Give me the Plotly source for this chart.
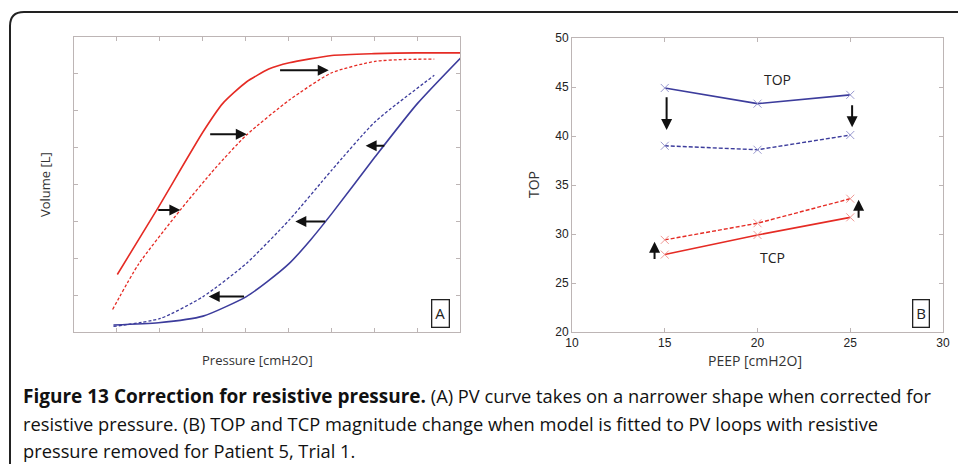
import plotly.graph_objects as go

W, H = 958, 464

# ---------- Panel A data (arbitrary units, no tick labels) ----------
red_solid_x = [1.01, 1.93, 3.01, 3.47, 4.02, 4.54, 5.02, 6.01, 7.0, 8.0, 9.02]
red_solid_y = [1.56, 3.31, 5.43, 6.2, 6.78, 7.13, 7.3, 7.5, 7.55, 7.57, 7.57]
red_dash_x = [0.9, 1.5, 2.48, 3.3, 4.02, 5.02, 6.01, 7.02, 7.7, 8.4]
red_dash_y = [0.61, 1.83, 3.31, 4.45, 5.34, 6.29, 7.03, 7.34, 7.39, 7.4]
blue_solid_x = [0.92, 1.97, 3.01, 4.02, 4.5, 5.02, 5.51, 6.01, 7.02, 8.01, 9.02]
blue_solid_y = [0.19, 0.25, 0.43, 0.96, 1.36, 1.86, 2.49, 3.21, 4.75, 6.2, 7.44]
blue_dash_x = [0.92, 2.02, 3.01, 4.02, 5.02, 6.01, 7.02, 8.4]
blue_dash_y = [0.15, 0.37, 0.96, 1.86, 3.04, 4.39, 5.7, 6.96]
# arrows A: (x_tail, x_head, y)
arrowsA_tail_x = [4.77, 3.14, 1.93, 7.27, 5.89, 4.0]
arrowsA_head_x = [5.94, 4.03, 2.48, 6.8, 5.16, 3.14]
arrowsA_y = [7.1, 5.36, 3.31, 5.05, 3.0, 0.96]

# ---------- Panel B data ----------
peep = [15, 20, 25]
top_solid = [44.9, 43.3, 44.2]
top_dash = [39.0, 38.6, 40.1]
tcp_solid = [27.9, 29.9, 31.7]
tcp_dash = [29.4, 31.1, 33.6]
# arrows B: (x, y_tail, y_head)
arrowsB_x = [15.1, 25.1, 14.45, 25.45]
arrowsB_tail_y = [44.1, 43.3, 27.3, 31.5]
arrowsB_head_y = [40.6, 40.9, 29.2, 33.5]

BLUE = "#3c3c9c"
RED = "#e52b24"
FRAME = "#bdb5b5"

fig = go.Figure()

# Panel A traces
fig.add_trace(go.Scatter(x=red_solid_x, y=red_solid_y, mode="lines", line=dict(color=RED, width=1.6, shape="spline", smoothing=0.6), xaxis="x", yaxis="y"))
fig.add_trace(go.Scatter(x=red_dash_x, y=red_dash_y, mode="lines", line=dict(color=RED, width=1.3, dash="3px,2px", shape="spline", smoothing=0.6), xaxis="x", yaxis="y"))
fig.add_trace(go.Scatter(x=blue_solid_x, y=blue_solid_y, mode="lines", line=dict(color=BLUE, width=1.6, shape="spline", smoothing=0.6), xaxis="x", yaxis="y"))
fig.add_trace(go.Scatter(x=blue_dash_x, y=blue_dash_y, mode="lines", line=dict(color=BLUE, width=1.3, dash="3px,2px", shape="spline", smoothing=0.6), xaxis="x", yaxis="y"))

# Panel B traces
mk_blue = dict(symbol="x-thin", size=8, line=dict(color="#9a9ad0", width=1))
mk_red = dict(symbol="x-thin", size=8, line=dict(color="#f09a96", width=1))
fig.add_trace(go.Scatter(x=peep, y=top_solid, mode="lines+markers", line=dict(color=BLUE, width=1.6), marker=mk_blue, xaxis="x2", yaxis="y2"))
fig.add_trace(go.Scatter(x=peep, y=top_dash, mode="lines+markers", line=dict(color=BLUE, width=1.4, dash="4px,2px"), marker=mk_blue, xaxis="x2", yaxis="y2"))
fig.add_trace(go.Scatter(x=peep, y=tcp_solid, mode="lines+markers", line=dict(color=RED, width=1.6), marker=mk_red, xaxis="x2", yaxis="y2"))
fig.add_trace(go.Scatter(x=peep, y=tcp_dash, mode="lines+markers", line=dict(color=RED, width=1.4, dash="4px,2px"), marker=mk_red, xaxis="x2", yaxis="y2"))

annotations = []
for xt, xh, yy in zip(arrowsA_tail_x, arrowsA_head_x, arrowsA_y):
    annotations.append(dict(x=xh, y=yy, ax=xt, ay=yy, xref="x", yref="y", axref="x", ayref="y",
                            text="", showarrow=True, arrowhead=2, arrowsize=1.1, arrowwidth=2, arrowcolor="#111"))
for xx, yt, yh in zip(arrowsB_x, arrowsB_tail_y, arrowsB_head_y):
    annotations.append(dict(x=xx, y=yh, ax=xx, ay=yt, xref="x2", yref="y2", axref="x2", ayref="y2",
                            text="", showarrow=True, arrowhead=2, arrowsize=1.1, arrowwidth=2, arrowcolor="#111"))

TXT = "#333"
C = dict(xanchor="center", yanchor="middle", showarrow=False)
annotations += [
    dict(text="A", x=440 / W, y=1 - 313.5 / H, xref="paper", yref="paper",
         font=dict(family="Open Sans", size=15, color="#222"), bordercolor="#222", borderwidth=1.3, borderpad=3, **C),
    dict(text="B", x=921 / W, y=1 - 313.5 / H, xref="paper", yref="paper",
         font=dict(family="Open Sans", size=15, color="#222"), bordercolor="#222", borderwidth=1.3, borderpad=3, **C),
    dict(text="TOP", x=21.1, y=45.8, xref="x2", yref="y2", font=dict(family="Open Sans", size=14, color="#222"), **C),
    dict(text="TCP", x=20.8, y=27.65, xref="x2", yref="y2", font=dict(family="Open Sans", size=14, color="#222"), **C),
    dict(text="Volume [L]", x=45 / W, y=1 - 185 / H, xref="paper", yref="paper", textangle=-90,
         font=dict(family="Open Sans", size=13, color=TXT), **C),
    dict(text="Pressure [cmH2O]", x=257 / W, y=1 - 360 / H, xref="paper", yref="paper",
         font=dict(family="Open Sans", size=13, color=TXT), **C),
    dict(text="TOP", x=533 / W, y=1 - 185 / H, xref="paper", yref="paper", textangle=-90,
         font=dict(family="Open Sans", size=14, color=TXT), **C),
    dict(text="PEEP [cmH2O]", x=755 / W, y=1 - 360 / H, xref="paper", yref="paper",
         font=dict(family="Open Sans", size=14, color=TXT), **C),
]

cap_lines = [
    "<b><span style='font-size:19px'>Figure 13 Correction for resistive pressure.</span></b> (A) PV curve takes on a narrower shape when corrected for",
    "resistive pressure. (B) TOP and TCP magnitude change when model is fitted to PV loops with resistive",
    "pressure removed for Patient 5, Trial 1.",
]
cap_y = [396, 423, 450]
for t, yy in zip(cap_lines, cap_y):
    annotations.append(dict(text=t, x=21 / W, y=1 - yy / H, xref="paper", yref="paper", xanchor="left", yanchor="middle",
                            showarrow=False, font=dict(family="Open Sans", size=18.3, color="#111")))

axA = dict(showgrid=False, zeroline=False, showline=True, linecolor=FRAME, linewidth=1, mirror="ticks",
           ticks="inside", ticklen=4, tickcolor=FRAME, showticklabels=False)
axB = dict(showgrid=False, zeroline=False, showline=True, linecolor=FRAME, linewidth=1, mirror="ticks",
           ticks="inside", ticklen=4, tickcolor=FRAME, tickfont=dict(family="Liberation Sans", size=12, color="#222"))

r = 14
x0 = 10 / W
yt = 1 - 12 / H
path = f"M {x0},{-0.1} L {x0},{yt - r / H} Q {x0},{yt} {x0 + r / W},{yt} L 1.1,{yt}"

fig.update_layout(
    width=W, height=H, margin=dict(l=0, r=0, t=0, b=0, autoexpand=False),
    paper_bgcolor="white", plot_bgcolor="white", showlegend=False,
    xaxis=dict(domain=[74 / W, 460 / W], range=[0, 9], tickvals=[1, 2, 3, 4, 5, 6, 7, 8], anchor="y", **axA),
    yaxis=dict(domain=[1 - 332 / H, 1 - 37 / H], range=[0, 8], tickvals=[1, 2, 3, 4, 5, 6, 7], anchor="x", **axA),
    xaxis2=dict(domain=[572 / W, 943 / W], range=[10, 30], tickvals=[10, 15, 20, 25, 30], anchor="y2", **axB),
    yaxis2=dict(domain=[1 - 332 / H, 1 - 38 / H], range=[20, 50], tickvals=[20, 25, 30, 35, 40, 45, 50], anchor="x2", **axB),
    annotations=annotations,
    shapes=[dict(type="path", path=path, xref="paper", yref="paper", line=dict(color="#222", width=2))],
)

fig.write_html("out.html")
